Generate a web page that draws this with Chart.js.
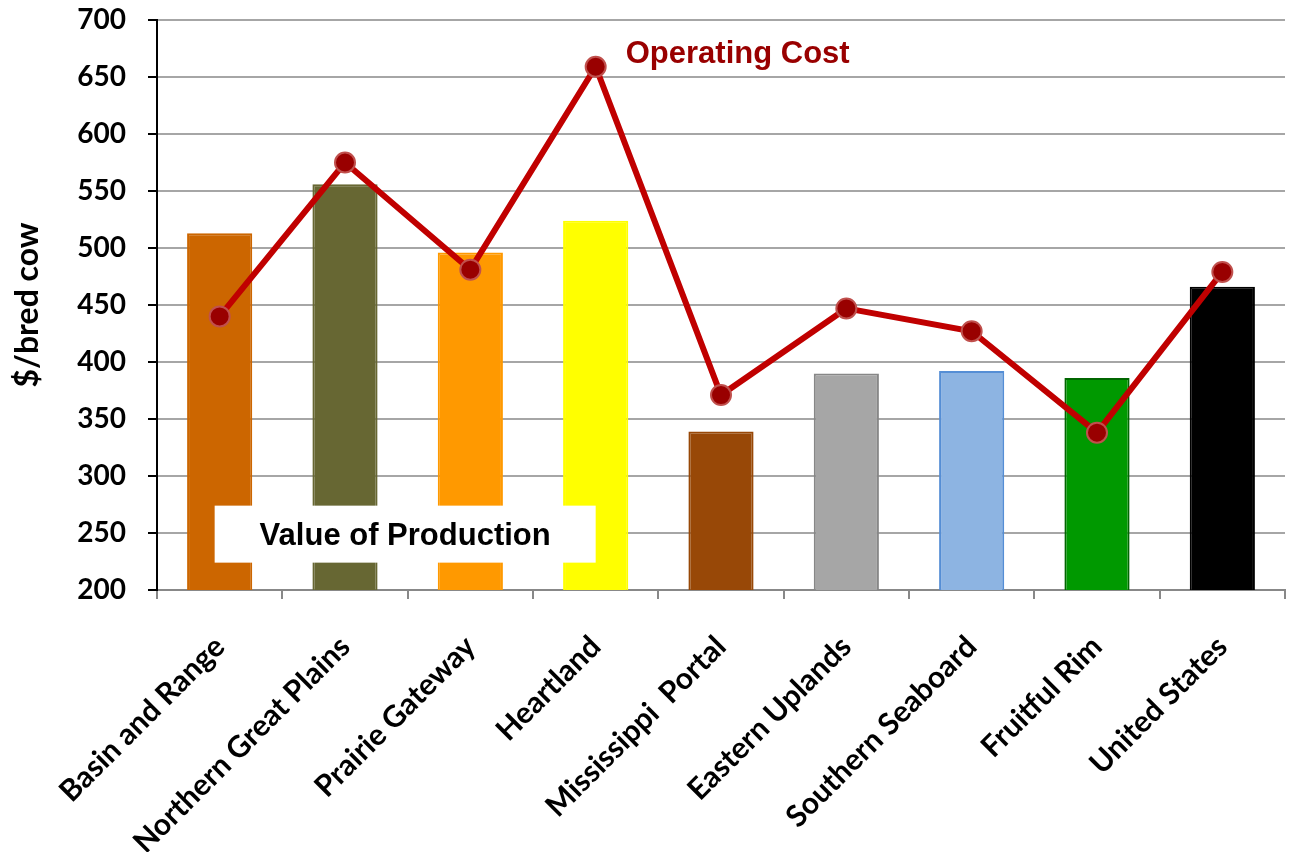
<!DOCTYPE html>
<html>
<head>
<meta charset="utf-8">
<script src="https://cdn.jsdelivr.net/npm/chart.js@4.4.1/dist/chart.umd.min.js"></script>
<style>
html, body { margin: 0; padding: 0; background: #fff; }
#wrap { width: 1297px; height: 852px; }
</style>
</head>
<body>
<div id="wrap"><canvas id="chart" width="1297" height="852"></canvas></div>
<script>
// data
var regions = ["Basin and Range", "Northern Great Plains", "Prairie Gateway", "Heartland",
    "Mississippi  Portal", "Eastern Uplands", "Southern Seaboard", "Fruitful Rim", "United States"];
var valueOfProduction = [513, 556, 496, 524, 339, 390, 392, 386, 466];
var operatingCost = [440, 575, 481, 659, 371, 447, 427, 338, 479];
var barColors = ["#CC6600", "#676733", "#FF9900", "#FFFF00", "#984807", "#A6A6A6", "#8DB4E2", "#009900", "#000000"];
var barBorders = ["#CC6600", "#676733", "#FF9900", "#FFFF00", "#984807", "#878787", "#558ED5", "#006600", "#000000"];
var yMin = 200, yMax = 700, yStep = 50;
var yTitle = "$/bred cow";
var barLabel = "Value of Production";
var lineLabel = "Operating Cost";

var labelFont = '"Lato", "Open Sans", sans-serif';
var noteFont = '"Liberation Sans", Arial, sans-serif';

// text boxes on the plot
var notesPlugin = {
    id: "notes",
    afterDatasetsDraw: function (chart) {
        var ctx = chart.ctx;
        var x = chart.scales.x;
        var y = chart.scales.y;
        ctx.save();
        var left = x.getPixelForValue(-0.04);
        var right = x.getPixelForValue(3);
        var top = y.getPixelForValue(274);
        var bottom = y.getPixelForValue(224);
        ctx.fillStyle = "#fff";
        ctx.fillRect(left, top, right - left, bottom - top);
        ctx.font = "bold 31px " + noteFont;
        ctx.textBaseline = "middle";
        ctx.textAlign = "center";
        ctx.fillStyle = "#000";
        ctx.fillText(barLabel, x.getPixelForValue(1.48), y.getPixelForValue(247));
        ctx.textAlign = "left";
        ctx.fillStyle = "#990000";
        ctx.fillText(lineLabel, x.getPixelForValue(3.24), y.getPixelForValue(670));
        ctx.restore();
    }
};

var ctx = document.getElementById("chart").getContext("2d");
var chart = new Chart(ctx, {
    data: {
        labels: regions,
        datasets: [{
            type: "line",
            label: lineLabel,
            data: operatingCost,
            borderColor: "#C00000",
            borderWidth: 6,
            tension: 0,
            pointRadius: 10,
            pointBackgroundColor: "#990000",
            pointBorderColor: "#C0504D",
            pointBorderWidth: 2,
            order: 0
        }, {
            type: "bar",
            label: barLabel,
            data: valueOfProduction,
            backgroundColor: barColors,
            borderColor: barBorders,
            borderWidth: 2,
            barPercentage: 0.52,
            categoryPercentage: 1,
            order: 1
        }]
    },
    options: {
        responsive: false,
        animation: false,
        devicePixelRatio: 1,
        layout: { padding: { top: 20, right: 2, left: 0, bottom: 0 } },
        plugins: {
            legend: { display: false },
            tooltip: { enabled: false }
        },
        scales: {
            x: {
                grid: { drawOnChartArea: false, color: "#888", tickLength: 9, lineWidth: 2 },
                border: { color: "#888", width: 2 },
                ticks: {
                    color: "#000",
                    font: { family: labelFont, size: 30, weight: "bold" },
                    minRotation: 45,
                    maxRotation: 45,
                    padding: 30
                },
                afterFit: function (scale) {
                    scale.height = 262;
                    scale.paddingRight = 0;
                }
            },
            y: {
                min: yMin,
                max: yMax,
                ticks: {
                    stepSize: yStep,
                    color: "#000",
                    padding: 22,
                    font: { family: labelFont, size: 28, weight: "bold" }
                },
                grid: { color: "#A6A6A6", lineWidth: 2, tickLength: 9, tickColor: "#000" },
                border: { color: "#000", width: 2 },
                title: {
                    display: true,
                    text: yTitle,
                    color: "#000",
                    font: { family: labelFont, size: 32, weight: "bold" },
                    padding: { top: 8, bottom: 0 }
                },
                afterFit: function (scale) {
                    scale.width = 157;
                    scale.paddingTop = 0;
                    scale.paddingBottom = 0;
                }
            }
        }
    },
    plugins: [notesPlugin]
});
</script>
</body>
</html>
